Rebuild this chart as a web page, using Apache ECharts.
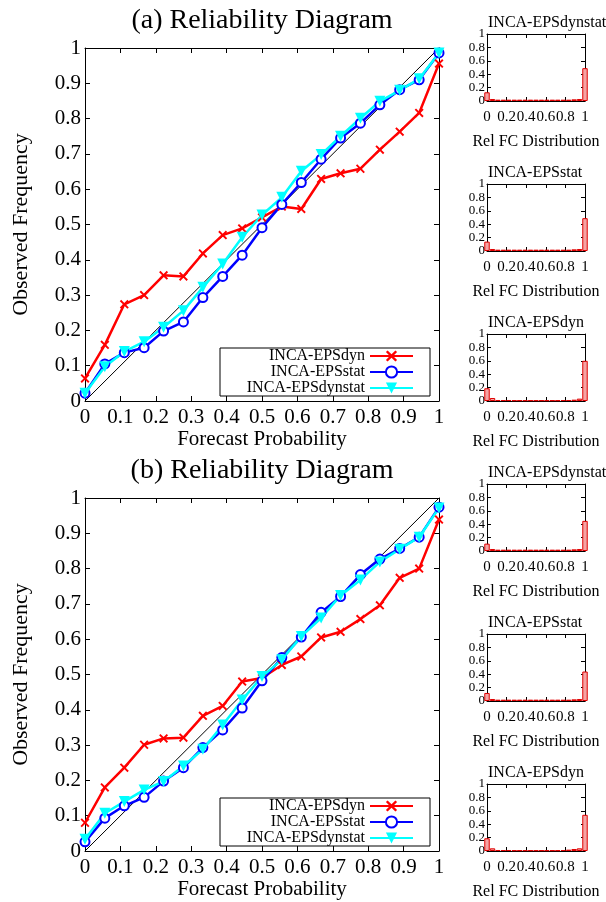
<!DOCTYPE html>
<html>
<head>
<meta charset="utf-8">
<script src="https://cdn.jsdelivr.net/npm/echarts@6/dist/echarts.min.js"></script>
<style>
	html, body { margin: 0; padding: 0; background: #fff; }
	#chart { width: 606px; height: 902px; }
</style>
</head>
<body>
<div id="chart"></div>
<script>
	// forecast probability bins (19 bins, 1/18 apart)
	var probs = [0, 0.056, 0.111, 0.167, 0.222, 0.278, 0.333, 0.389, 0.444, 0.5,
		0.556, 0.611, 0.667, 0.722, 0.778, 0.833, 0.889, 0.944, 1];
	var diagonal = [0, 1];
	var names = ['INCA-EPSdyn', 'INCA-EPSstat', 'INCA-EPSdynstat'];

	// (a) observed frequency
	var aDyn = [0.064, 0.159, 0.274, 0.300, 0.356, 0.353, 0.418, 0.470, 0.489, 0.520,
		0.551, 0.544, 0.629, 0.645, 0.658, 0.712, 0.763, 0.816, 0.956];
	var aStat = [0.022, 0.105, 0.137, 0.151, 0.198, 0.224, 0.293, 0.353, 0.413, 0.491,
		0.557, 0.619, 0.685, 0.745, 0.787, 0.839, 0.882, 0.910, 0.986];
	var aDynstat = [0.022, 0.097, 0.140, 0.168, 0.209, 0.256, 0.322, 0.388, 0.464, 0.527,
		0.577, 0.651, 0.698, 0.750, 0.801, 0.849, 0.880, 0.913, 0.986];

	// (b) observed frequency
	var bDyn = [0.080, 0.180, 0.236, 0.301, 0.319, 0.321, 0.383, 0.411, 0.480, 0.490,
		0.527, 0.551, 0.605, 0.621, 0.657, 0.696, 0.774, 0.800, 0.939];
	var bStat = [0.026, 0.093, 0.128, 0.152, 0.198, 0.236, 0.293, 0.343, 0.405, 0.482,
		0.548, 0.606, 0.676, 0.721, 0.783, 0.827, 0.857, 0.889, 0.974];
	var bDynstat = [0.033, 0.107, 0.140, 0.173, 0.197, 0.241, 0.288, 0.357, 0.428, 0.494,
		0.542, 0.608, 0.660, 0.724, 0.768, 0.819, 0.855, 0.889, 0.972];

	// forecast distributions (relative frequency per bin)
	var histADynstat = [0.13, 0.03, 0.02, 0.02, 0.02, 0.02, 0.02, 0.02, 0.02, 0.02,
		0.02, 0.02, 0.02, 0.02, 0.02, 0.02, 0.025, 0.03, 0.49];
	var histAStat = [0.14, 0.03, 0.02, 0.02, 0.02, 0.02, 0.02, 0.02, 0.02, 0.02,
		0.02, 0.02, 0.02, 0.02, 0.02, 0.02, 0.025, 0.03, 0.49];
	var histADyn = [0.19, 0.045, 0.015, 0.015, 0.015, 0.012, 0.012, 0.012, 0.012, 0.012,
		0.012, 0.012, 0.012, 0.012, 0.015, 0.015, 0.02, 0.035, 0.6];
	var histBDynstat = [0.11, 0.03, 0.02, 0.02, 0.02, 0.02, 0.02, 0.02, 0.02, 0.02,
		0.02, 0.02, 0.02, 0.02, 0.02, 0.02, 0.025, 0.03, 0.45];
	var histBStat = [0.12, 0.03, 0.02, 0.02, 0.02, 0.02, 0.02, 0.02, 0.02, 0.02,
		0.02, 0.02, 0.02, 0.02, 0.02, 0.02, 0.025, 0.03, 0.44];
	var histBDyn = [0.19, 0.04, 0.015, 0.015, 0.015, 0.012, 0.012, 0.012, 0.012, 0.012,
		0.012, 0.012, 0.012, 0.012, 0.015, 0.02, 0.03, 0.04, 0.54];

	var FONT = 'Liberation Serif';
	var CROSS = 'path://M0,1.5L1.5,0L5,3.5L8.5,0L10,1.5L6.5,5L10,8.5L8.5,10L5,6.5L1.5,10L0,8.5L3.5,5Z';

	var option = {
		animation: false,
		backgroundColor: '#fff',
		textStyle: {fontFamily: FONT, color: '#000'},
		title: [],
		grid: [],
		xAxis: [],
		yAxis: [],
		legend: [],
		series: []
	};

	function zip(ys){
		return probs.map(function(p, i){ return [p, ys[i]]; });
	}

	// one grid with a labelled bottom/left axis pair and mirrored top/right ticks
	function addPanel(box, cfg){
		var gi = option.grid.length;
		option.grid.push({
			left: box.left, top: box.top, width: box.width, height: box.height,
			containLabel: false, outerBoundsMode: 'none'
		});
		var line = {onZero: false, lineStyle: {color: '#000', width: 1}};
		var tick = {inside: true, length: cfg.tickLen, lineStyle: {color: '#000', width: 1}};
		var base = {
			type: 'value', gridIndex: gi, min: 0, max: 1,
			splitLine: {show: false}, axisLine: line, axisTick: tick
		};
		var xi = option.xAxis.length, yi = option.yAxis.length;
		option.xAxis.push(Object.assign({}, base, {
			position: 'bottom',
			interval: cfg.xInterval,
			axisLabel: {
				fontFamily: FONT, fontSize: cfg.xLabelSize, color: '#000',
				margin: cfg.xLabelMargin, showMinLabel: true, showMaxLabel: true
			},
			name: cfg.xName,
			nameLocation: 'middle',
			nameGap: cfg.xNameGap,
			nameTextStyle: {fontFamily: FONT, fontSize: cfg.xNameSize, color: '#000'}
		}));
		option.xAxis.push(Object.assign({}, base, {
			position: 'top', interval: cfg.xInterval, axisLabel: {show: false}
		}));
		option.yAxis.push(Object.assign({}, base, {
			position: 'left',
			interval: cfg.yInterval,
			axisLabel: {
				fontFamily: FONT, fontSize: cfg.yLabelSize, color: '#000',
				margin: cfg.yLabelMargin, showMinLabel: true, showMaxLabel: true
			},
			name: cfg.yName || '',
			nameLocation: 'middle',
			nameGap: cfg.yNameGap || 0,
			nameTextStyle: {fontFamily: FONT, fontSize: cfg.yNameSize || 12, color: '#000'}
		}));
		option.yAxis.push(Object.assign({}, base, {
			position: 'right', interval: cfg.yInterval, axisLabel: {show: false}
		}));
		return {x: xi, y: yi};
	}

	function reliability(label, top, dyn, stat, dynstat){
		option.title.push({
			text: label, left: 262, top: top - 41, textAlign: 'center', padding: 0,
			textStyle: {fontFamily: FONT, fontSize: 28, fontWeight: 'normal', color: '#000'}
		});
		var ax = addPanel({left: 85, top: top, width: 354, height: 353}, {
			tickLen: 5, xInterval: 0.1, yInterval: 0.1,
			xLabelSize: 21, xLabelMargin: 6, yLabelSize: 21, yLabelMargin: 4,
			xName: 'Forecast Probability', xNameGap: 28, xNameSize: 21,
			yName: 'Observed Frequency', yNameGap: 53, yNameSize: 22
		});
		option.series.push({
			type: 'line', name: 'perfect', xAxisIndex: ax.x, yAxisIndex: ax.y,
			data: [[diagonal[0], diagonal[0]], [diagonal[1], diagonal[1]]],
			symbol: 'none', silent: true, z: 1,
			lineStyle: {color: '#000', width: 1}
		});
		var looks = [
			{data: dyn, color: '#ff0000', symbol: CROSS, size: 9, rotate: 0},
			{data: stat, color: '#0000ff', symbol: 'emptyCircle', size: 9, rotate: 0},
			{data: dynstat, color: '#00ffff', symbol: 'triangle', size: 11, rotate: 180}
		];
		looks.forEach(function(s, i){
			option.series.push({
				type: 'line', name: names[i], xAxisIndex: ax.x, yAxisIndex: ax.y,
				data: zip(s.data),
				symbol: s.symbol, symbolSize: s.size, symbolRotate: s.rotate,
				showAllSymbol: true, z: 3,
				itemStyle: {color: s.color, borderColor: s.color, borderWidth: s.symbol === 'emptyCircle' ? 1.8 : 0},
				lineStyle: {color: s.color, width: 2.5}
			});
		});
		option.legend.push({
			left: 220, top: top + 300, orient: 'vertical', align: 'right',
			itemGap: 0, itemWidth: 43, itemHeight: 14,
			padding: [0, 16, 0, 5],
			borderColor: '#000', borderWidth: 1, backgroundColor: '#fff',
			selectedMode: false,
			data: names,
			formatter: function(n){ return '{t|' + n + '}'; },
			textStyle: {
				rich: {t: {width: 140, align: 'right', fontFamily: FONT, fontSize: 16, lineHeight: 16, color: '#000'}}
			}
		});
	}

	function distribution(label, top, hist){
		option.title.push({
			text: label, left: 488, top: top - 19, padding: 0,
			textStyle: {fontFamily: FONT, fontSize: 16, fontWeight: 'normal', color: '#000'}
		});
		var ax = addPanel({left: 487, top: top, width: 98, height: 67}, {
			tickLen: 4, xInterval: 0.2, yInterval: 0.2,
			xLabelSize: 15, xLabelMargin: 9, yLabelSize: 13, yLabelMargin: 2,
			xName: 'Rel FC Distribution', xNameGap: 33, xNameSize: 16
		});
		option.series.push({
			type: 'bar', name: label + ' dist', xAxisIndex: ax.x, yAxisIndex: ax.y,
			data: zip(hist), barWidth: 98 / 18, clip: true, silent: true,
			itemStyle: {color: '#f4a4a4', borderColor: '#e00000', borderWidth: 1}
		});
	}

	reliability('(a) Reliability Diagram', 48, aDyn, aStat, aDynstat);
	reliability('(b) Reliability Diagram', 498, bDyn, bStat, bDynstat);

	distribution('INCA-EPSdynstat', 34, histADynstat);
	distribution('INCA-EPSstat', 184, histAStat);
	distribution('INCA-EPSdyn', 334, histADyn);
	distribution('INCA-EPSdynstat', 484, histBDynstat);
	distribution('INCA-EPSstat', 634, histBStat);
	distribution('INCA-EPSdyn', 784, histBDyn);

	var chart = echarts.init(document.getElementById('chart'), null, {renderer: 'canvas'});
	chart.setOption(option);
</script>
</body>
</html>
